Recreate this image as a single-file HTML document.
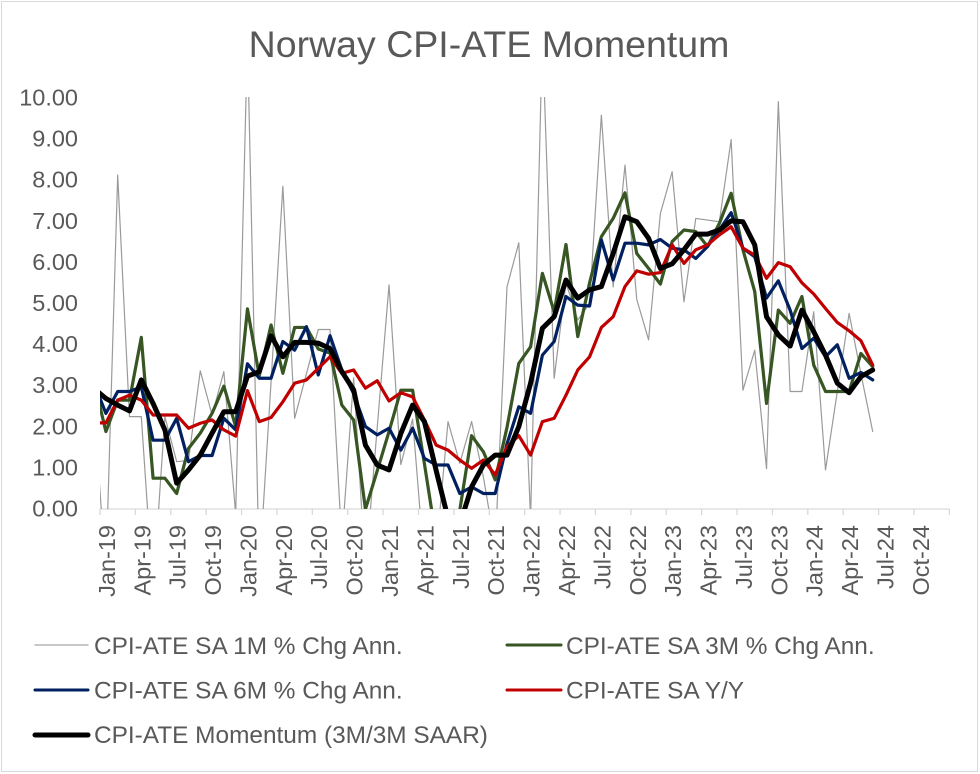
<!DOCTYPE html>
<html>
<head>
<meta charset="utf-8">
<style>
  html,body{margin:0;padding:0;background:#fff;}
  svg{display:block;}
  text{font-family:"Liberation Sans", Arial, sans-serif; fill:#595959;}
</style>
</head>
<body>
<svg width="980" height="774" viewBox="0 0 980 774" xmlns="http://www.w3.org/2000/svg">
  <rect x="0" y="0" width="980" height="774" fill="#ffffff"/>
  <rect x="1.5" y="1.5" width="976" height="770" fill="none" stroke="#D9D9D9" stroke-width="1"/>

  <!-- Title -->
  <text x="489" y="57" text-anchor="middle" font-size="37.5">Norway CPI-ATE Momentum</text>

  <!-- Y axis labels -->
  <g font-size="23.5" text-anchor="end">
    <text x="78" y="105.5">10.00</text>
    <text x="78" y="146.6">9.00</text>
    <text x="78" y="187.7">8.00</text>
    <text x="78" y="228.8">7.00</text>
    <text x="78" y="269.9">6.00</text>
    <text x="78" y="311">5.00</text>
    <text x="78" y="352.1">4.00</text>
    <text x="78" y="393.2">3.00</text>
    <text x="78" y="434.3">2.00</text>
    <text x="78" y="475.4">1.00</text>
    <text x="78" y="516.5">0.00</text>
  </g>

  <!-- X axis -->
  <line x1="100" y1="509" x2="949.4" y2="509" stroke="#D9D9D9" stroke-width="1.3"/>
  <g stroke="#D9D9D9" stroke-width="1.3">
    <line x1="100" y1="509" x2="100" y2="515"/>
    <line x1="135.39" y1="509" x2="135.39" y2="515"/>
    <line x1="170.78" y1="509" x2="170.78" y2="515"/>
    <line x1="206.17" y1="509" x2="206.17" y2="515"/>
    <line x1="241.56" y1="509" x2="241.56" y2="515"/>
    <line x1="276.95" y1="509" x2="276.95" y2="515"/>
    <line x1="312.34" y1="509" x2="312.34" y2="515"/>
    <line x1="347.73" y1="509" x2="347.73" y2="515"/>
    <line x1="383.12" y1="509" x2="383.12" y2="515"/>
    <line x1="418.51" y1="509" x2="418.51" y2="515"/>
    <line x1="453.9" y1="509" x2="453.9" y2="515"/>
    <line x1="489.29" y1="509" x2="489.29" y2="515"/>
    <line x1="524.68" y1="509" x2="524.68" y2="515"/>
    <line x1="560.07" y1="509" x2="560.07" y2="515"/>
    <line x1="595.46" y1="509" x2="595.46" y2="515"/>
    <line x1="630.85" y1="509" x2="630.85" y2="515"/>
    <line x1="666.24" y1="509" x2="666.24" y2="515"/>
    <line x1="701.63" y1="509" x2="701.63" y2="515"/>
    <line x1="737.02" y1="509" x2="737.02" y2="515"/>
    <line x1="772.41" y1="509" x2="772.41" y2="515"/>
    <line x1="807.8" y1="509" x2="807.8" y2="515"/>
    <line x1="843.19" y1="509" x2="843.19" y2="515"/>
    <line x1="878.58" y1="509" x2="878.58" y2="515"/>
    <line x1="913.97" y1="509" x2="913.97" y2="515"/>
    <line x1="949.36" y1="509" x2="949.36" y2="515"/>
  </g>

  <!-- X labels -->
  <g font-size="23.5" text-anchor="end">
    <text transform="translate(114.9,525) rotate(-90)">Jan-19</text>
    <text transform="translate(150.3,525) rotate(-90)">Apr-19</text>
    <text transform="translate(185.7,525) rotate(-90)">Jul-19</text>
    <text transform="translate(221.1,525) rotate(-90)">Oct-19</text>
    <text transform="translate(256.5,525) rotate(-90)">Jan-20</text>
    <text transform="translate(291.9,525) rotate(-90)">Apr-20</text>
    <text transform="translate(327.2,525) rotate(-90)">Jul-20</text>
    <text transform="translate(362.6,525) rotate(-90)">Oct-20</text>
    <text transform="translate(398.0,525) rotate(-90)">Jan-21</text>
    <text transform="translate(433.4,525) rotate(-90)">Apr-21</text>
    <text transform="translate(468.8,525) rotate(-90)">Jul-21</text>
    <text transform="translate(504.2,525) rotate(-90)">Oct-21</text>
    <text transform="translate(539.6,525) rotate(-90)">Jan-22</text>
    <text transform="translate(575.0,525) rotate(-90)">Apr-22</text>
    <text transform="translate(610.4,525) rotate(-90)">Jul-22</text>
    <text transform="translate(645.8,525) rotate(-90)">Oct-22</text>
    <text transform="translate(681.1,525) rotate(-90)">Jan-23</text>
    <text transform="translate(716.5,525) rotate(-90)">Apr-23</text>
    <text transform="translate(751.9,525) rotate(-90)">Jul-23</text>
    <text transform="translate(787.3,525) rotate(-90)">Oct-23</text>
    <text transform="translate(822.7,525) rotate(-90)">Jan-24</text>
    <text transform="translate(858.1,525) rotate(-90)">Apr-24</text>
    <text transform="translate(893.5,525) rotate(-90)">Jul-24</text>
    <text transform="translate(928.9,525) rotate(-90)">Oct-24</text>
  </g>

  <!-- Series -->
  <defs>
    <clipPath id="plotclip">
      <rect x="100" y="97" width="850" height="412"/>
    </clipPath>
  </defs>
  <g clip-path="url(#plotclip)">
    <g transform="translate(105.9,510) scale(11.797,-41.3)" fill="none" stroke-linejoin="round" stroke-linecap="round">
      <!-- 1M gray -->
      <polyline vector-effect="non-scaling-stroke" stroke="#9A9A9A" stroke-width="1.2"
        points="-1,2.4 0,-1.5 1,8.11 2,2.26 3,2.26 4,-1.96 5,2.26 6,1.17 7,1.2 8,3.37 9,2.3 10,3.35 11,-0.1 12,11.4 13,-1.5 14,3.1 15,7.84 16,2.22 17,3.3 18,4.37 19,4.37 20,-0.8 21,3.2 22,-1.47 23,2.0 24,5.45 25,1.1 26,2.2 27,-1.34 28,-1.0 29,2.14 30,1.13 31,2.14 32,0.8 33,-0.9 34,5.4 35,6.47 36,-0.2 37,11.5 38,3.19 39,5.5 40,4.6 41,5.0 42,9.56 43,5.4 44,8.35 45,5.1 46,4.12 47,7.18 48,8.19 49,5.04 50,7.06 51,7.02 52,6.98 53,8.97 54,2.9 55,3.87 56,1.0 57,9.89 58,2.87 59,2.87 60,4.8 61,0.97 62,2.87 63,4.76 64,3.3 65,1.9"/>
      <!-- 3M green -->
      <polyline vector-effect="non-scaling-stroke" stroke="#375623" stroke-width="3.2"
        points="-1,3.1 0,1.9 1,2.66 2,2.66 3,4.18 4,0.77 5,0.77 6,0.40 7,1.49 8,1.86 9,2.34 10,3.0 11,2.02 12,4.87 13,3.25 14,4.48 15,3.31 16,4.42 17,4.42 18,3.9 19,3.8 20,2.54 21,2.18 22,0.02 23,0.95 24,1.9 25,2.9 26,2.9 27,1.12 28,-0.71 29,-1.0 30,0.0 31,1.80 32,1.41 33,0.73 34,2.0 35,3.55 36,3.95 37,5.73 38,4.80 39,6.43 40,4.20 41,5.5 42,6.62 43,7.06 44,7.68 45,6.21 46,5.85 47,5.47 48,6.50 49,6.78 50,6.74 51,6.38 52,6.94 53,7.67 54,6.30 55,5.29 56,2.58 57,4.84 58,4.52 59,5.17 60,3.51 61,2.87 62,2.87 63,2.87 64,3.79 65,3.47"/>
      <!-- 6M blue -->
      <polyline vector-effect="non-scaling-stroke" stroke="#002060" stroke-width="3.2"
        points="-1,3.06 0,2.34 1,2.87 2,2.87 3,2.98 4,1.69 5,1.69 6,2.22 7,1.17 8,1.32 9,1.32 10,2.22 11,1.94 12,3.54 13,3.19 14,3.19 15,4.08 16,3.87 17,4.44 18,3.27 19,4.22 20,3.39 21,2.82 22,2.02 23,1.82 24,1.98 25,1.45 26,1.98 27,1.25 28,1.09 29,1.09 30,0.40 31,0.56 32,0.40 33,0.40 34,1.6 35,2.5 36,2.34 37,3.75 38,4.08 39,5.17 40,4.96 41,4.94 42,6.54 43,5.57 44,6.46 45,6.46 46,6.42 47,6.55 48,6.34 49,6.30 50,6.09 51,6.38 52,6.78 53,7.20 54,6.34 55,6.13 56,5.13 57,5.55 58,4.84 59,3.91 60,4.16 61,3.71 62,4.0 63,3.19 64,3.33 65,3.15"/>
      <!-- Y/Y red -->
      <polyline vector-effect="non-scaling-stroke" stroke="#C00000" stroke-width="3.2"
        points="-1,2.11 0,2.11 1,2.66 2,2.78 3,2.66 4,2.30 5,2.30 6,2.30 7,1.98 8,2.10 9,2.18 10,1.94 11,1.79 12,2.89 13,2.14 14,2.24 15,2.62 16,3.07 17,3.15 18,3.43 19,3.71 20,3.31 21,3.39 22,2.95 23,3.13 24,2.64 25,2.84 26,2.74 27,2.18 28,1.57 29,1.45 30,1.21 31,1.01 32,1.21 33,0.85 34,1.53 35,1.80 36,1.33 37,2.14 38,2.22 39,2.78 40,3.39 41,3.71 42,4.42 43,4.68 44,5.41 45,5.79 46,5.71 47,5.75 48,6.42 49,5.97 50,6.30 51,6.42 52,6.66 53,6.86 54,6.34 55,6.17 56,5.61 57,5.99 58,5.89 59,5.50 60,5.23 61,4.88 62,4.54 63,4.34 64,4.10 65,3.51"/>
      <!-- Momentum black -->
      <polyline vector-effect="non-scaling-stroke" stroke="#000000" stroke-width="5"
        points="-1,2.94 0,2.7 1,2.54 2,2.40 3,3.15 4,2.58 5,1.94 6,0.65 7,0.97 8,1.33 9,1.86 10,2.38 11,2.38 12,3.24 13,3.35 14,4.22 15,3.71 16,4.06 17,4.06 18,4.04 19,3.91 20,3.35 21,2.91 22,1.57 23,1.09 24,0.97 25,1.85 26,2.54 27,2.14 28,0.95 29,-0.2 30,-0.35 31,0.56 32,1.09 33,1.33 34,1.33 35,2.02 36,3.07 37,4.40 38,4.68 39,5.57 40,5.13 41,5.33 42,5.41 43,6.21 44,7.10 45,6.98 46,6.58 47,5.85 48,5.96 49,6.30 50,6.68 51,6.68 52,6.78 53,7.0 54,6.98 55,6.42 56,4.68 57,4.24 58,3.97 59,4.84 60,4.32 61,3.75 62,3.07 63,2.84 64,3.23 65,3.39"/>
    </g>
  </g>

  <!-- Legend -->
  <g stroke-linecap="round">
    <line x1="35" y1="645" x2="88" y2="645" stroke="#A6A6A6" stroke-width="1.3"/>
    <line x1="507" y1="645" x2="561" y2="645" stroke="#375623" stroke-width="3"/>
    <line x1="35" y1="690" x2="88" y2="690" stroke="#002060" stroke-width="3"/>
    <line x1="507" y1="690" x2="561" y2="690" stroke="#C00000" stroke-width="3"/>
    <line x1="35" y1="735" x2="88" y2="735" stroke="#000000" stroke-width="5"/>
  </g>
  <g font-size="24.4">
    <text x="94" y="654">CPI-ATE SA 1M % Chg Ann.</text>
    <text x="566" y="654">CPI-ATE SA 3M % Chg Ann.</text>
    <text x="94" y="698.5">CPI-ATE SA 6M % Chg Ann.</text>
    <text x="566" y="698.5">CPI-ATE SA Y/Y</text>
    <text x="94" y="743">CPI-ATE Momentum (3M/3M SAAR)</text>
  </g>
</svg>
</body>
</html>
